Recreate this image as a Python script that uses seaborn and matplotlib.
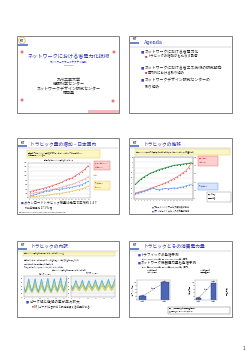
import matplotlib
matplotlib.use("Agg")
import matplotlib.pyplot as plt
import pandas as pd
import seaborn as sns
from matplotlib.patches import Rectangle, Circle

W, H = 250, 353

# slide 3: download traffic in Japan (Gbps), half-yearly 2004/11 - 2013/11
s3_period = list(range(19))
s3_total = [290, 320, 360, 390, 420, 470, 510, 560, 610, 660, 720, 800, 870, 900, 1000, 1090, 1190, 1300, 1460]
s3_isp = [200, 220, 250, 270, 300, 330, 360, 390, 420, 460, 500, 540, 590, 620, 680, 740, 800, 870, 960]
s3_upload = [90, 130, 170, 210, 260, 330, 300, 360, 400, 380, 420, 440, 470, 490, 520, 560, 600, 680, 760]
s3_other = [60, 70, 80, 95, 110, 125, 140, 160, 180, 200, 225, 250, 280, 310, 340, 380, 420, 470, 530]

# slide 4: broadband share (%) and traffic (Tbps)
s4_period = list(range(20))
s4_share = [35, 42, 48, 53, 57, 61, 64, 67, 70, 72, 74, 76, 78, 80, 81, 82, 83, 84, 85, 86]
s4_down = [0.23, 0.26, 0.29, 0.32, 0.36, 0.40, 0.44, 0.48, 0.52, 0.56, 0.61, 0.66, 0.72, 0.78, 0.84,
           0.91, 0.99, 1.07, 1.20, 1.38]
s4_up = [0.20, 0.23, 0.26, 0.30, 0.33, 0.38, 0.42, 0.37, 0.36, 0.38, 0.40, 0.39, 0.40, 0.42, 0.41,
         0.44, 0.46, 0.50, 0.53, 0.55]

# slide 5: one week of traffic, 4 samples a day
s5_hour = list(range(28))
s5_down_2011 = [0.55, 0.30, 0.62, 0.98, 0.56, 0.31, 0.64, 1.00, 0.54, 0.29, 0.61, 0.97, 0.57, 0.32,
                0.66, 1.02, 0.55, 0.30, 0.63, 0.99, 0.60, 0.35, 0.70, 1.05, 0.62, 0.36, 0.72, 1.06]
s5_down_2010 = [0.45, 0.26, 0.50, 0.80, 0.46, 0.27, 0.52, 0.82, 0.44, 0.25, 0.50, 0.79, 0.47, 0.27,
                0.54, 0.84, 0.45, 0.26, 0.51, 0.81, 0.49, 0.29, 0.57, 0.86, 0.50, 0.30, 0.58, 0.87]
s5_down_2009 = [0.37, 0.23, 0.41, 0.62, 0.38, 0.24, 0.42, 0.64, 0.36, 0.22, 0.40, 0.61, 0.38, 0.24,
                0.44, 0.65, 0.37, 0.23, 0.42, 0.63, 0.40, 0.26, 0.46, 0.67, 0.41, 0.26, 0.47, 0.68]
s5_up_2011 = [0.62, 0.45, 0.66, 0.90, 0.63, 0.46, 0.68, 0.92, 0.61, 0.44, 0.65, 0.89, 0.64, 0.47,
              0.69, 0.93, 0.62, 0.45, 0.67, 0.91, 0.66, 0.49, 0.72, 0.96, 0.67, 0.50, 0.73, 0.97]
s5_up_2010 = [0.52, 0.38, 0.56, 0.76, 0.53, 0.39, 0.57, 0.78, 0.51, 0.37, 0.55, 0.75, 0.54, 0.40,
              0.58, 0.79, 0.52, 0.38, 0.56, 0.77, 0.55, 0.41, 0.61, 0.81, 0.56, 0.42, 0.62, 0.82]
s5_up_2009 = [0.44, 0.33, 0.47, 0.62, 0.45, 0.34, 0.48, 0.64, 0.43, 0.32, 0.46, 0.61, 0.45, 0.34,
              0.49, 0.65, 0.44, 0.33, 0.47, 0.63, 0.46, 0.35, 0.51, 0.66, 0.47, 0.36, 0.52, 0.67]

# slide 6: forecasts 2006 -> 2025
s6_years = ["2006年", "2025年"]
s6_traffic = [20, 100]
s6_power = [11, 97]

sns.set_theme(style="white")
plt.rcParams["font.family"] = ["Noto Sans CJK JP", "DejaVu Sans"]

BLUE = "#2c2cc4"
fig = plt.figure(figsize=(W / 100, H / 100), dpi=100)
page = fig.add_axes([0, 0, 1, 1])
page.set_xlim(0, W)
page.set_ylim(H, 0)
page.axis("off")


def rect(x0, y0, x1, y1):
    return [x0 / W, 1 - y1 / H, (x1 - x0) / W, (y1 - y0) / H]


def box(x0, y0, x1, y1, fc, ec, lw=0.3):
    page.add_patch(Rectangle((x0, y0), x1 - x0, y1 - y0, fc=fc, ec=ec, lw=lw, zorder=2))


def txt(x, y, s, size=2.3, color="#222222", **kw):
    page.text(x, y, s, fontsize=size, color=color, va="center", zorder=3, **kw)


def bullet(x, y, s, size=2.3, sub=False):
    page.text(x, y, "■", fontsize=size * (0.7 if sub else 0.85),
              color="#e03030" if sub else "#3344cc", va="center", zorder=3)
    txt(x + size * 1.2, y, s, size=size)


def logo(x, y, big=False):
    if big:
        page.add_patch(Circle((x + 4, y + 3.5), 3.3, fc="white", ec="#e8c050", lw=0.6, zorder=3))
        page.text(x + 4, y + 3.5, "KIT", fontsize=1.8, weight="bold", ha="center", va="center", zorder=4)
        page.add_patch(Rectangle((x - 1, y + 7.2), 11, 1.5, fc="#6a86c8", ec="none", zorder=3))
    else:
        page.text(x + 3.5, y + 2.5, "KIT", fontsize=1.9, weight="bold", ha="center", va="center", zorder=4)
        page.add_patch(Rectangle((x - 1, y + 5), 9, 1.5, fc="#6a86c8", ec="none", zorder=3))


frames = [(17, 36, 119, 113), (129, 36, 232, 113), (17, 138, 119, 214),
          (129, 138, 232, 214), (17, 241, 119, 317), (129, 241, 232, 317)]
for x0, y0, x1, y1 in frames:
    page.add_patch(Rectangle((x0 + 0.8, y0 + 0.8), x1 - x0, y1 - y0, fc="#c8c8c8", ec="none", zorder=1))
    page.add_patch(Rectangle((x0, y0), x1 - x0, y1 - y0, fc="white", ec="#6e6e6e", lw=0.6, zorder=1))

# slide 1
logo(18, 37, big=True)
for cx, cy in [(22, 52), (114, 52), (22, 100), (113, 101)]:
    page.add_patch(Circle((cx, cy), 1.3, fc="#e04848", ec="#f4c0c0", lw=0.6, zorder=3))
page.add_patch(Rectangle((88, 110), 31, 3, fc="#f6b8bc", ec="none", zorder=2))
page.text(69, 57, "ネットワークにおける省電力化技術", fontsize=3.7, color=BLUE, ha="center", va="center")
page.text(69, 62, "ネットワークアーキテクチャ特論", fontsize=1.8, color=BLUE, ha="center", va="center")
page.text(69, 65.5, "2014/10/9", fontsize=1.6, color=BLUE, ha="center", va="center")
for i, s in enumerate(["九州工業大学", "情報科学センター", "ネットワークデザイン研究センター", "福田豊"]):
    page.text(69, 80 + i * 4.4, s, fontsize=2.9, color="#222222", ha="center", va="center")

# slide 2
logo(131, 37)
page.plot([130, 231], [47, 47], color="#a0a0c0", lw=0.3)
page.text(143, 42.5, "Agenda", fontsize=3.5, color=BLUE, family="DejaVu Serif", va="center")
bullet(141, 52, "ネットワークにおける省電力化", size=2.8)
bullet(145, 56, "トラヒックの増加がもたらす影響", size=2.4, sub=True)
bullet(141, 68, "ネットワークにおける省エネ技術の研究動向", size=2.8)
bullet(145, 72, "国内外における取り組み", size=2.4, sub=True)
bullet(141, 80, "ネットワークデザイン研究センターの", size=2.8)
txt(144.4, 86.5, "取り組み", size=2.8)

# slide 3
logo(19, 140)
page.plot([18, 118], [148, 148], color="#a0a0c0", lw=0.3)
page.text(30, 144, "トラヒック量の増加 – 日本国内", fontsize=3.4, color=BLUE, va="center")
box(27, 150, 100, 158, "#fcf6c0", "#d8c860")
txt(28, 152.5, "我が国のブロードバンド契約者の総ダウンロードトラヒックは推定で約1.4T", size=1.2)
txt(28, 155.5, "前年同月比 27.1% 増加", size=1.2)
page.text(59, 161, "我が国のブロードバンド契約者のトラヒック", fontsize=1.1, ha="center", va="center")
ax3 = fig.add_axes(rect(28, 162.5, 90, 198))
df3 = pd.DataFrame({"t": s3_period * 4,
                    "v": s3_total + s3_isp + s3_upload + s3_other,
                    "s": ["total"] * 19 + ["isp"] * 19 + ["up"] * 19 + ["other"] * 19})
sns.lineplot(data=df3, x="t", y="v", hue="s", ax=ax3, legend=False, lw=0.5,
             marker="o", markersize=0.8, markeredgewidth=0,
             palette={"total": "#f06060", "isp": "#f8a8a8", "up": "#60a8f0", "other": "#f0c060"})
ax3.set_ylim(0, 1600)
ax3.set_xlim(-0.5, 18.5)
ax3.grid(axis="y", color="#e0e0e0", lw=0.3)
ax3.tick_params(labelsize=1.0, length=0, pad=0.5)
ax3.set_xlabel("")
ax3.set_ylabel("")
ax3.set_xticks(s3_period)
for sp in ax3.spines.values():
    sp.set_linewidth(0.3)
    sp.set_color("#999999")
box(94, 161, 110, 170, "#fbd0d0", "#f06060")
txt(95, 164, "ダウンロード 1.4T", size=1.1, color="#d03030")
txt(95, 167, "前年比 27%", size=1.1, color="#d03030")
txt(93, 175, "ISP集計", size=1.1, color="#e09030")
box(94, 181, 110, 190, "#fff4c0", "#e0c060")
txt(95, 184, "アップロード", size=1.1, color="#806000")
txt(95, 187, "約 0.76T", size=1.1, color="#806000")
bullet(21, 203, "ダウンロードトラヒック総量は推定で平均約 1.4 T", size=2.3)
bullet(25, 207.5, "前年同月比 27.1 % 増", size=1.9, sub=True)
txt(19, 212, "http://www.soumu.go.jp/menu_news/s-news/01kiban04_02000069.html", size=1.0)

# slide 4
logo(131, 140)
page.plot([130, 231], [148, 148], color="#a0a0c0", lw=0.3)
page.text(143, 144, "トラヒックの推移", fontsize=3.4, color=BLUE, va="center")
box(135, 149, 230, 155, "#fcf6c0", "#d8c860")
txt(136, 152, "ブロードバンドサービスの契約数の割合の推移とダウンロードトラヒックの総量の推移", size=1.1)
ax4 = fig.add_axes(rect(134, 157, 193, 199))
df4 = pd.DataFrame({"t": s4_period * 2, "v": s4_down + s4_up,
                    "s": ["down"] * 20 + ["up"] * 20})
sns.lineplot(data=df4, x="t", y="v", hue="s", ax=ax4, legend=False, lw=0.5,
             marker="s", markersize=0.9, markeredgewidth=0,
             palette={"down": "#f07070", "up": "#70a0e8"})
ax4.set_ylim(0, 1.6)
ax4.grid(axis="y", color="#e0e0e0", lw=0.3)
ax4r = ax4.twinx()
sns.lineplot(x=s4_period, y=s4_share, ax=ax4r, color="#2a8a40", lw=0.6,
             marker="o", markersize=0.9, markeredgewidth=0)
ax4r.set_ylim(0, 100)
ax4r.grid(False)
for a in (ax4, ax4r):
    a.tick_params(labelsize=1.0, length=0, pad=0.5)
    a.set_xlabel("")
    a.set_ylabel("")
    a.set_xlim(-0.5, 19.5)
    for sp in a.spines.values():
        sp.set_linewidth(0.3)
        sp.set_color("#999999")
ax4.set_xticks(s4_period)
box(140, 161, 160, 166, "#d8f4c8", "#60b060")
txt(141, 163.5, "ブロードバンド契約数の割合", size=1.0, color="#207030")
box(198, 156, 218, 166, "#fbd0d0", "#f06060")
txt(199, 159, "ダウンロード", size=1.1, color="#d03030")
txt(199, 162.5, "トラヒック", size=1.1, color="#d03030")
box(198, 183, 218, 190, "#d8e4fb", "#6090e0")
txt(199, 186.5, "アップロード", size=1.1, color="#3050b0")
box(207, 192, 231, 202, "white", "#888888")
txt(208, 195, "出典：総務省", size=1.0)
txt(208, 198.5, "情報通信白書", size=1.0)
bullet(152, 207, "ブロードバンドサービス契約数の割合", size=1.5)
bullet(152, 211, "ダウンロードトラヒックの総量の推移", size=1.5)

# slide 5
logo(19, 243)
page.plot([18, 118], [251, 251], color="#a0a0c0", lw=0.3)
page.text(30, 246, "トラヒックの内訳", fontsize=3.4, color=BLUE, va="center")
box(23, 252, 115, 256, "#fcf6c0", "#d8c860")
txt(24, 254, "ブロードバンド契約者の時間帯別トラヒックの推移（ISP6社）", size=1.1)
txt(24, 261, "一日の中でトラヒックのピークとボトムの差が大きく、年々その差が拡大している", size=1.1)
txt(24, 264, "ピークに合わせて設備を用意する必要がある", size=1.1)
txt(24, 267, "総務省 我が国のインターネットにおけるトラヒックの集計", size=1.1, color="#3050d0")
page.text(69, 270.5, "ブロードバンド契約者の時間帯別トラヒックの推移", fontsize=1.1, ha="center", va="center")
page.text(45, 273.5, "ダウンストリーム", fontsize=1.2, ha="center", va="center")
page.text(92, 273.5, "アップストリーム", fontsize=1.2, ha="center", va="center")
s5_pal = {"2009": "#a8d848", "2010": "#f0c040", "2011": "#40b0e0"}
for r, (a, b, c) in zip([rect(24, 276, 67, 297), rect(71, 276, 115, 297)],
                        [(s5_down_2009, s5_down_2010, s5_down_2011),
                         (s5_up_2009, s5_up_2010, s5_up_2011)]):
    ax5 = fig.add_axes(r)
    df5 = pd.DataFrame({"h": s5_hour * 3, "v": a + b + c,
                        "y": ["2009"] * 28 + ["2010"] * 28 + ["2011"] * 28})
    sns.lineplot(data=df5, x="h", y="v", hue="y", ax=ax5, legend=False, lw=0.6, palette=s5_pal)
    ax5.set_ylim(0, 1.15)
    ax5.set_xlim(0, 27)
    ax5.set_facecolor("#f6f6f6")
    ax5.grid(axis="y", color="#dddddd", lw=0.3)
    ax5.tick_params(labelsize=1.0, length=0, pad=0.5)
    ax5.set_xlabel("")
    ax5.set_ylabel("")
    for sp in ax5.spines.values():
        sp.set_linewidth(0.3)
        sp.set_color("#999999")
bullet(26, 302, "ピーク値と低値の差が年々拡大", size=2.6)
bullet(32, 306.5, "DF (ピーク)に合わせて設備投資する必要がある…", size=1.9, sub=True)

# slide 6
logo(131, 243)
page.plot([130, 231], [251, 251], color="#a0a0c0", lw=0.3)
page.text(143, 246, "トラヒックとその消費電力量", fontsize=3.4, color=BLUE, va="center")
bullet(138, 255, "トラフィックの急増予測", size=2.5)
bullet(142, 259, "637 Gbps (2006年) → 121 Tbps (2025年) (国内)", size=1.5, sub=True)
bullet(138, 263, "ネットワーク機器電力量も急増予測", size=2.5)
bullet(142, 267, "41 億kWh(2006年) → 970億kWh(2025年) (国内)", size=1.5, sub=True)
page.text(152, 272, "2025年の国内の\nトラヒック予測", fontsize=1.1, ha="center", va="center")
page.text(205, 272, "2025年の国内の\n消費電力量予測", fontsize=1.1, ha="center", va="center")
for r, vals, lab, ratio in [(rect(137, 280, 170, 300), s6_traffic, "トラフィック量", "約190倍"),
                            (rect(195, 280, 217, 300), s6_power, "消費電力量", "約24倍")]:
    ax6 = fig.add_axes(r)
    sns.barplot(x=s6_years, y=vals, ax=ax6, color="#3a5ec8", width=0.35,
                edgecolor="#1a2e80", linewidth=0.3)
    ax6.plot([0, 1], vals, ls="--", color="#555555", lw=0.3)
    ax6.text(0.5, sum(vals) / 2, ratio, fontsize=1.0, ha="center", va="bottom")
    for i, v in enumerate(vals):
        ax6.text(i, v + 3, s6_years[i], fontsize=0.9, ha="center", va="bottom")
    ax6.set_ylim(0, 112)
    ax6.set_ylabel(lab, fontsize=1.3, labelpad=0.5)
    ax6.tick_params(labelsize=1.0, length=0, pad=0.5)
    for sp in ax6.spines.values():
        sp.set_linewidth(0.3)
        sp.set_color("#999999")
page.text(226, 291, "消費電力量", fontsize=1.3, rotation=-90, ha="center", va="center")
box(168, 307, 230, 314, "white", "#666666")
txt(169, 309, "出典：「情報通信機器の消費電力量の予測」", size=1.0)
txt(169, 312, "経済産業省 グリーンITイニシアティブ", size=1.0)

page.text(244, 348, "1", fontsize=3.2, ha="center", va="center")

fig.savefig("out.png", dpi=100)
